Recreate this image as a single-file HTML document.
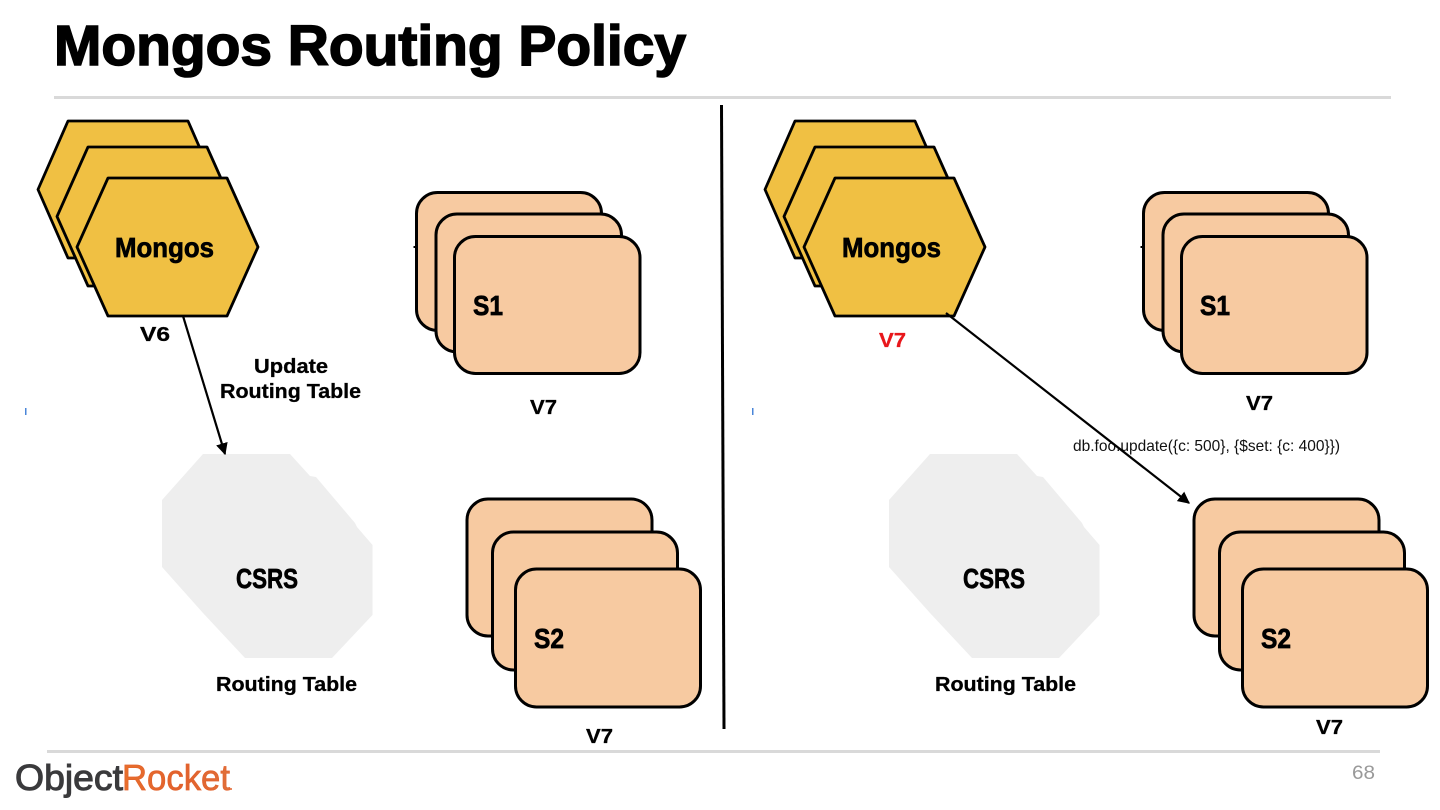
<!DOCTYPE html>
<html lang="en">
<head>
<meta charset="utf-8">
<title>Mongos Routing Policy</title>
<style>
html,body{margin:0;padding:0;background:#fff;width:1440px;height:810px;overflow:hidden}
svg{display:block}
text{font-family:"Liberation Sans",sans-serif;font-weight:bold;fill:#000}
.hex{fill:#f0c043;stroke:#000;stroke-width:2.8;stroke-linejoin:round}
.box{fill:#f7caa1;stroke:#000;stroke-width:3}
.lbl{font-size:20.500px;stroke:#000;stroke-width:.3}
.big{font-size:28px;stroke:#000;stroke-width:.7}
</style>
</head>
<body>
<svg width="1440" height="810" viewBox="0 0 1440 810" xmlns="http://www.w3.org/2000/svg">
<defs>
<marker id="ah" viewBox="0 0 10 10" refX="9" refY="5" markerWidth="12" markerHeight="12" markerUnits="userSpaceOnUse" orient="auto"><path d="M0 0L10 5L0 10z" fill="#000"/></marker>
<linearGradient id="rk" x1="0" y1="0" x2="1" y2="0"><stop offset="0" stop-color="#e8702c"/><stop offset=".55" stop-color="#e2602c"/><stop offset="1" stop-color="#e0703a"/></linearGradient>
<g id="hexes">
<polygon class="hex" points="68,121 188,121 218,189.5 188,258 68,258 38,189.5"/>
<polygon class="hex" points="88,147 207,147 238,216.5 207,286 88,286 57,216.5"/>
<polygon class="hex" points="108,178 227,178 258,247 227,316 108,316 77,247"/>
</g>
<g id="s1">
<rect x="416.5" y="192.5" width="185" height="138" rx="21" class="box"/>
<rect x="436" y="214" width="185.500" height="138" rx="21" class="box"/>
<rect x="454.500" y="236.500" width="185.500" height="137" rx="21" class="box"/>
</g>
<g id="s2">
<rect x="467" y="499" width="185" height="137" rx="21" class="box"/>
<rect x="492.500" y="532" width="185" height="138" rx="21" class="box"/>
<rect x="515.500" y="569" width="185" height="138" rx="21" class="box"/>
</g>
<polygon id="csrs" fill="#eeeeee" points="203,454 290,454 310,476 316,477 355,523 357,527 372.500,545 372.500,615 332,658 245,658 203,613 162,567 162,500"/>
</defs>

<text x="54" y="65" font-size="57" textLength="632" lengthAdjust="spacingAndGlyphs" style="stroke:#000;stroke-width:1.6">Mongos Routing Policy</text>
<rect x="54" y="96" width="1337" height="3" fill="#d9d9d9"/>
<rect x="47" y="750" width="1333" height="3" fill="#d9d9d9"/>

<line x1="721.500" y1="105" x2="724" y2="729" stroke="#000" stroke-width="3"/>

<!-- Left panel -->
<use href="#hexes"/>
<use href="#s1"/>
<use href="#s2"/>
<use href="#csrs"/>
<rect x="413.500" y="246" width="3" height="2" fill="#000"/>
<rect x="25" y="408" width="1.500" height="7" fill="#4a86d8"/>
<text x="115" y="257" class="big" textLength="99" lengthAdjust="spacingAndGlyphs">Mongos</text>
<text x="473" y="315" class="big" textLength="30" lengthAdjust="spacingAndGlyphs">S1</text>
<text x="534" y="648" class="big" textLength="30" lengthAdjust="spacingAndGlyphs">S2</text>
<text x="236" y="588" class="big" textLength="62" lengthAdjust="spacingAndGlyphs">CSRS</text>
<text x="140" y="341" class="lbl" textLength="30" lengthAdjust="spacingAndGlyphs">V6</text>
<text x="254" y="373" class="lbl" textLength="74" lengthAdjust="spacingAndGlyphs">Update</text>
<text x="220" y="398" class="lbl" textLength="141" lengthAdjust="spacingAndGlyphs">Routing Table</text>
<text x="530" y="414" class="lbl" textLength="27" lengthAdjust="spacingAndGlyphs">V7</text>
<text x="216" y="691" class="lbl" textLength="141" lengthAdjust="spacingAndGlyphs">Routing Table</text>
<text x="586" y="743" class="lbl" textLength="27" lengthAdjust="spacingAndGlyphs">V7</text>
<line x1="183" y1="316" x2="225" y2="454" stroke="#000" stroke-width="2.200" marker-end="url(#ah)"/>

<!-- Right panel -->
<g transform="translate(727 0)">
<use href="#hexes"/>
<use href="#s1"/>
<use href="#s2"/>
<use href="#csrs"/>
<rect x="413.500" y="246" width="3" height="2" fill="#000"/>
<rect x="25" y="408" width="1.500" height="7" fill="#4a86d8"/>
</g>
<text x="842" y="257" class="big" textLength="99" lengthAdjust="spacingAndGlyphs">Mongos</text>
<text x="1200" y="315" class="big" textLength="30" lengthAdjust="spacingAndGlyphs">S1</text>
<text x="1261" y="648" class="big" textLength="30" lengthAdjust="spacingAndGlyphs">S2</text>
<text x="963" y="588" class="big" textLength="62" lengthAdjust="spacingAndGlyphs">CSRS</text>
<text x="879" y="347" class="lbl" textLength="27" lengthAdjust="spacingAndGlyphs" style="fill:#e8161b;stroke:#e8161b">V7</text>
<text x="1246" y="410" class="lbl" textLength="27" lengthAdjust="spacingAndGlyphs">V7</text>
<text x="935" y="691" class="lbl" textLength="141" lengthAdjust="spacingAndGlyphs">Routing Table</text>
<text x="1316" y="734" class="lbl" textLength="27" lengthAdjust="spacingAndGlyphs">V7</text>
<text x="1073" y="451" font-size="16" textLength="267" lengthAdjust="spacingAndGlyphs" style="font-weight:normal;fill:#111">db.foo.update({c: 500}, {$set: {c: 400}})</text>
<line x1="946" y1="313" x2="1189" y2="503" stroke="#000" stroke-width="2.200" marker-end="url(#ah)"/>

<!-- Footer -->
<text x="15" y="790" font-size="36" textLength="108" lengthAdjust="spacingAndGlyphs" style="font-weight:normal;fill:#3a3a3c;stroke:#3a3a3c;stroke-width:1">Object</text>
<text x="122" y="790" font-size="36" textLength="108" lengthAdjust="spacingAndGlyphs" style="font-weight:normal;fill:url(#rk);stroke:#e2622c;stroke-width:.7">Rocket</text>
<circle cx="231" cy="789" r="1" fill="#e2622c"/>
<text x="1352" y="779" font-size="19" textLength="23" lengthAdjust="spacingAndGlyphs" style="font-weight:normal;fill:#999">68</text>
</svg>
</body>
</html>
